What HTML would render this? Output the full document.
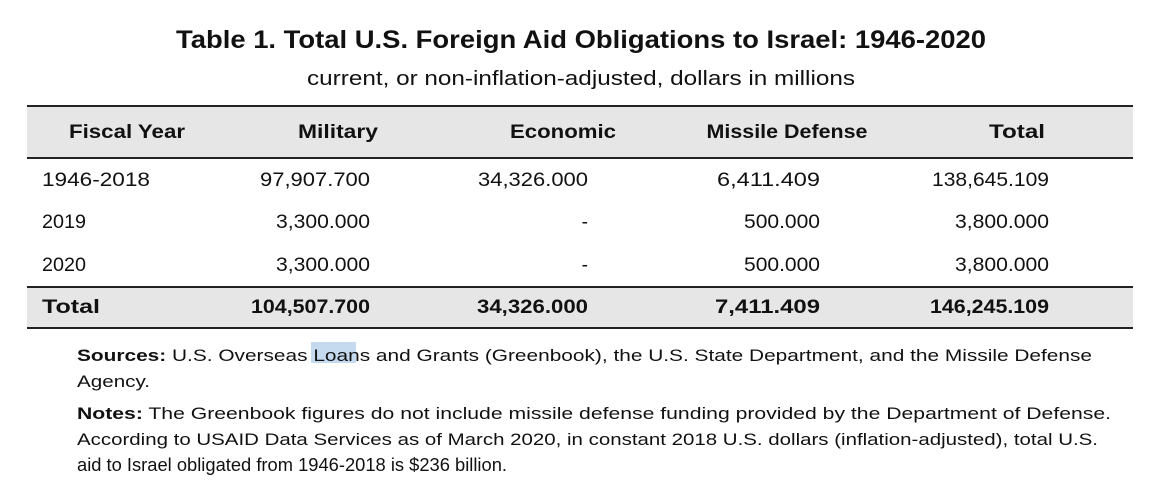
<!DOCTYPE html>
<html><head><meta charset="utf-8"><style>
html,body{margin:0;padding:0;background:#fff;}
svg{display:block;}
text{font-family:"Liberation Sans",sans-serif;fill:#111;}
.b{font-weight:bold;}
</style></head><body>
<svg width="1153" height="492" viewBox="0 0 1153 492">
<text x="581" y="48" text-anchor="middle" class="b" font-size="25" textLength="810" lengthAdjust="spacingAndGlyphs">Table 1. Total U.S. Foreign Aid Obligations to Israel: 1946-2020</text>
<text x="581" y="85" text-anchor="middle" font-size="20" textLength="548" lengthAdjust="spacingAndGlyphs">current, or non-inflation-adjusted, dollars in millions</text>
<rect x="27" y="106" width="1106" height="52" fill="#e6e6e6"/>
<rect x="27" y="288" width="1106" height="39" fill="#e6e6e6"/>
<line x1="27" y1="106" x2="1133" y2="106" stroke="#222" stroke-width="2"/>
<line x1="27" y1="158" x2="1133" y2="158" stroke="#222" stroke-width="2"/>
<line x1="27" y1="287" x2="1133" y2="287" stroke="#222" stroke-width="2"/>
<line x1="27" y1="328" x2="1133" y2="328" stroke="#222" stroke-width="2"/>
<g class="b" font-size="19">
<text x="127" y="138" text-anchor="middle" textLength="116" lengthAdjust="spacingAndGlyphs">Fiscal Year</text>
<text x="338" y="138" text-anchor="middle" textLength="80" lengthAdjust="spacingAndGlyphs">Military</text>
<text x="563" y="138" text-anchor="middle" textLength="106" lengthAdjust="spacingAndGlyphs">Economic</text>
<text x="787" y="138" text-anchor="middle" textLength="161" lengthAdjust="spacingAndGlyphs">Missile Defense</text>
<text x="1017" y="138" text-anchor="middle" textLength="56" lengthAdjust="spacingAndGlyphs">Total</text>
</g>
<g font-size="19">
<text x="42" y="186" textLength="108" lengthAdjust="spacingAndGlyphs">1946-2018</text>
<text x="370" y="186" text-anchor="end" textLength="110" lengthAdjust="spacingAndGlyphs">97,907.700</text>
<text x="588" y="186" text-anchor="end" textLength="110" lengthAdjust="spacingAndGlyphs">34,326.000</text>
<text x="820" y="186" text-anchor="end" textLength="103" lengthAdjust="spacingAndGlyphs">6,411.409</text>
<text x="1049" y="186" text-anchor="end" textLength="117" lengthAdjust="spacingAndGlyphs">138,645.109</text>
<text x="42" y="228" textLength="44" lengthAdjust="spacingAndGlyphs">2019</text>
<text x="370" y="228" text-anchor="end" textLength="94" lengthAdjust="spacingAndGlyphs">3,300.000</text>
<text x="588" y="228" text-anchor="end">-</text>
<text x="820" y="228" text-anchor="end" textLength="76" lengthAdjust="spacingAndGlyphs">500.000</text>
<text x="1049" y="228" text-anchor="end" textLength="94" lengthAdjust="spacingAndGlyphs">3,800.000</text>
<text x="42" y="271" textLength="44" lengthAdjust="spacingAndGlyphs">2020</text>
<text x="370" y="271" text-anchor="end" textLength="94" lengthAdjust="spacingAndGlyphs">3,300.000</text>
<text x="588" y="271" text-anchor="end">-</text>
<text x="820" y="271" text-anchor="end" textLength="76" lengthAdjust="spacingAndGlyphs">500.000</text>
<text x="1049" y="271" text-anchor="end" textLength="94" lengthAdjust="spacingAndGlyphs">3,800.000</text>
</g>
<g class="b" font-size="19">
<text x="42" y="313" textLength="58" lengthAdjust="spacingAndGlyphs">Total</text>
<text x="370" y="313" text-anchor="end" textLength="119" lengthAdjust="spacingAndGlyphs">104,507.700</text>
<text x="588" y="313" text-anchor="end" textLength="111" lengthAdjust="spacingAndGlyphs">34,326.000</text>
<text x="820" y="313" text-anchor="end" textLength="105" lengthAdjust="spacingAndGlyphs">7,411.409</text>
<text x="1049" y="313" text-anchor="end" textLength="119" lengthAdjust="spacingAndGlyphs">146,245.109</text>
</g>
<rect x="311" y="342" width="45" height="21" fill="#c5d9ef"/>
<g font-size="17">
<text x="77" y="361" textLength="1015" lengthAdjust="spacingAndGlyphs"><tspan class="b">Sources:</tspan> U.S. Overseas Loans and Grants (Greenbook), the U.S. State Department, and the Missile Defense</text>
<text x="77" y="387" textLength="73" lengthAdjust="spacingAndGlyphs">Agency.</text>
<text x="77" y="419" textLength="1034" lengthAdjust="spacingAndGlyphs"><tspan class="b">Notes:</tspan> The Greenbook figures do not include missile defense funding provided by the Department of Defense.</text>
<text x="77" y="445" textLength="1021" lengthAdjust="spacingAndGlyphs">According to USAID Data Services as of March 2020, in constant 2018 U.S. dollars (inflation-adjusted), total U.S.</text>
<text x="77" y="471" font-size="18" textLength="430" lengthAdjust="spacingAndGlyphs">aid to Israel obligated from 1946-2018 is $236 billion.</text>
</g>
</svg>
</body></html>
